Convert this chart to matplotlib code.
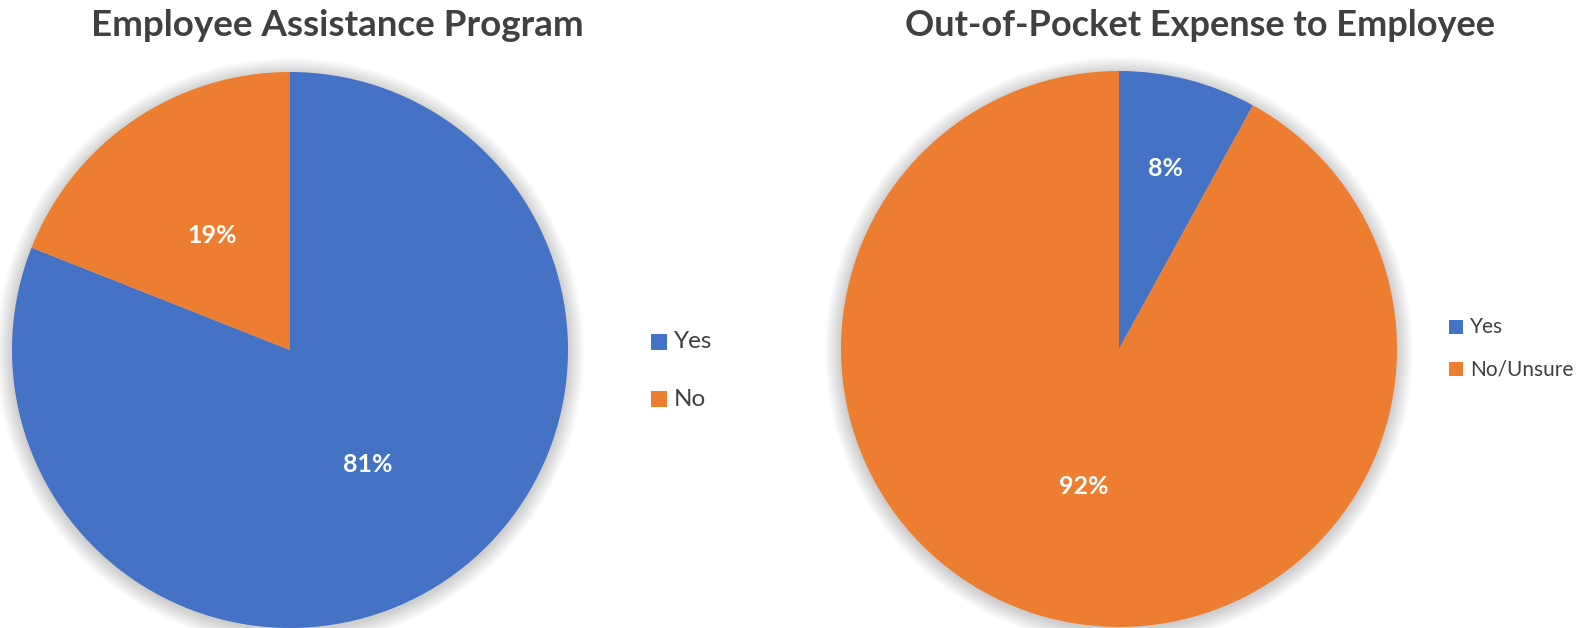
import matplotlib.pyplot as plt
import numpy as np
from matplotlib.patches import Circle, Rectangle

W, H = 1585, 628

# survey results
eap_title = "Employee Assistance Program"
eap_labels = ["Yes", "No"]
eap_values = [81, 19]

oop_title = "Out-of-Pocket Expense to Employee"
oop_labels = ["Yes", "No/Unsure"]
oop_values = [8, 92]

BLUE = "#4472C4"
ORANGE = "#ED7D31"
TEXT = "#404040"

plt.rcParams["font.family"] = ["Lato", "DejaVu Sans"]

fig = plt.figure(figsize=(W / 100, H / 100), dpi=100)
ax = fig.add_axes([0, 0, 1, 1])


def draw_pie(center, radius, values, label_dist, title, title_x, title_size):
    cx, cy = center
    # soft shadow behind the pie
    for k in range(16, 0, -1):
        ax.add_patch(Circle((cx, cy - 2), radius + k, color="black",
                            alpha=0.011, lw=0, zorder=1))
    wedges, _ = ax.pie(values, colors=[BLUE, ORANGE], startangle=90,
                       counterclock=False, center=center, radius=radius,
                       wedgeprops=dict(linewidth=0, zorder=2))
    for w, d, v in zip(wedges, label_dist, values):
        ang = np.deg2rad((w.theta1 + w.theta2) / 2)
        ax.text(cx + d * radius * np.cos(ang), cy + d * radius * np.sin(ang),
                f"{v}%", color="white", fontsize=18, fontweight="bold",
                ha="center", va="center", zorder=3)
    ax.text(title_x, H - 26, title, color=TEXT, fontsize=title_size,
            fontweight="bold", ha="center", va="center")
    return wedges


def draw_legend(labels, x, ys, size, fsize):
    for lab, col, y in zip(labels, [BLUE, ORANGE], ys):
        ax.add_patch(Rectangle((x, y - size / 2), size, size, color=col, lw=0))
        ax.text(x + size + 7, y, lab, color=TEXT, fontsize=fsize,
                ha="left", va="center")


draw_pie((290, 278), 278, eap_values, [0.5, 0.5], eap_title, 337, 26.5)
draw_legend(eap_labels, 651, [H - 342, H - 399], 16, 17.5)

draw_pie((1119, 279), 278, oop_values, [0.67, 0.51], oop_title, 1200, 26)
draw_legend(oop_labels, 1449, [H - 327, H - 369], 14, 15)

ax.set_xlim(0, W)
ax.set_ylim(0, H)
ax.set_aspect("equal")
ax.axis("off")

fig.savefig("out.png", dpi=100, facecolor="white")
